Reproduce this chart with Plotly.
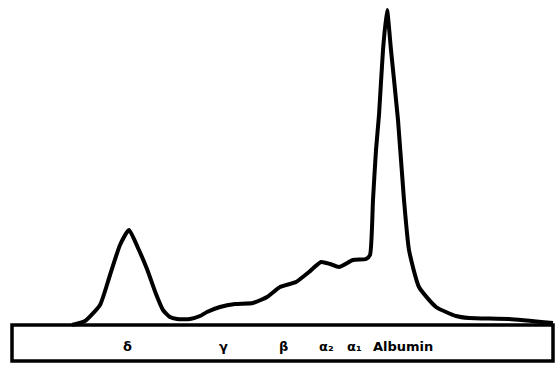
import plotly.graph_objects as go

# Densitometer trace: x position (px along strip) and height above the strip baseline
trace_x = [72, 85, 100, 110, 120, 129, 138, 147, 156, 163, 170, 177, 190, 200, 207, 220, 235, 253,
           267, 280, 296, 309, 321, 330, 339, 353, 366, 370, 373, 376, 379, 383, 387, 391, 398, 404,
           409, 419, 436, 456, 469, 509, 553]
trace_h = [0, 4, 20, 50, 80, 95, 77, 56, 31, 15, 8, 6, 6, 9, 13, 18, 21, 22,
           28, 38, 43, 53, 63, 61, 58, 65, 66, 70, 125, 175, 210, 275, 315, 275, 205, 125,
           75, 38, 18, 9, 7, 6, 2]

# Fraction labels under the strip
band_labels = ["δ", "γ", "β", "α₂", "α₁", "Albumin"]
band_pos = [127, 223, 283, 326, 354, 403]

strip_left, strip_right = 12, 553
strip_top, strip_bottom = 0, -36

fig = go.Figure()
fig.add_trace(go.Scatter(
    x=trace_x, y=trace_h, mode="lines",
    line=dict(color="black", width=4, shape="spline", smoothing=0.5),
    hoverinfo="skip", showlegend=False,
))

fig.add_shape(type="rect", x0=strip_left, x1=strip_right, y0=strip_bottom, y1=strip_top,
              line=dict(color="black", width=3.5), fillcolor="white", layer="below")

for lab, xp in zip(band_labels, band_pos):
    fig.add_annotation(x=xp, y=-21, text="<b>" + lab + "</b>", showarrow=False,
                       font=dict(family="DejaVu Sans", size=13, color="black"))

fig.update_layout(
    width=556, height=366,
    margin=dict(l=0, r=0, t=0, b=0),
    paper_bgcolor="white", plot_bgcolor="white",
    xaxis=dict(range=[0, 556], visible=False, fixedrange=True),
    yaxis=dict(range=[-41, 325], visible=False, fixedrange=True),
)
fig.write_html("out.html")
